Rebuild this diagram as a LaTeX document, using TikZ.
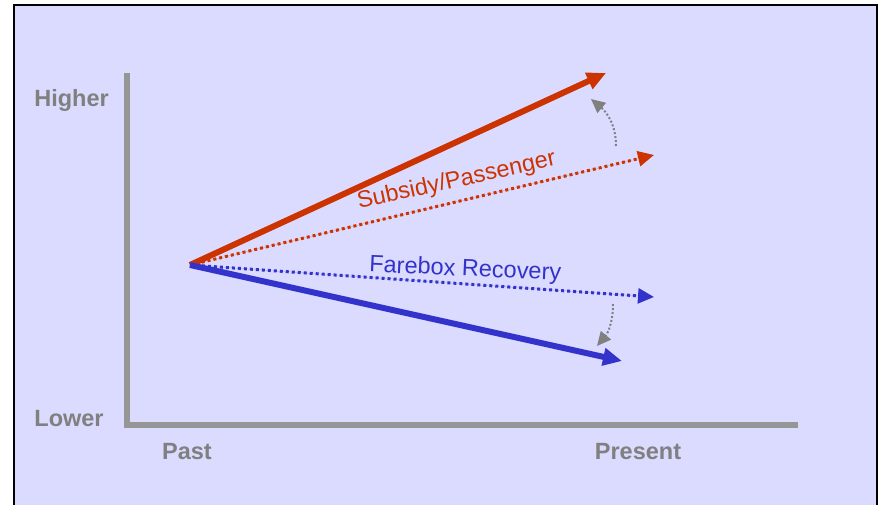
\documentclass[tikz,border=0pt]{standalone}
\usepackage{fontspec}
\setmainfont{Liberation Sans}
\usetikzlibrary{arrows.meta}
\definecolor{panel}{RGB}{219,219,255}
\definecolor{axisgray}{RGB}{150,150,150}
\definecolor{labelgray}{RGB}{128,128,128}
\definecolor{subred}{RGB}{204,51,0}
\definecolor{fareblue}{RGB}{51,51,204}
\tikzset{
  axisline/.style={draw=axisgray, line width=6pt},
  axislabel/.style={text=labelgray, font=\fontsize{23.5}{28}\bfseries\selectfont, anchor=base, inner sep=0pt},
  trendlabel/.style={font=\fontsize{23.5}{28}\selectfont, anchor=base, inner sep=0pt},
  solidtrend/.style={line width=6pt, -{Triangle[length=19pt, width=17pt]}},
  dottedtrend/.style={line width=3pt, dash pattern=on 3pt off 3pt, -{Triangle[length=16pt, width=15pt]}},
  shiftarrow/.style={draw=labelgray, line width=2pt, dash pattern=on 2pt off 2pt, -{Triangle[length=14pt, width=13pt, fill=labelgray]}}
}
\begin{document}
\begin{tikzpicture}[x=1pt, y=-1pt]
  \useasboundingbox (0,0) rectangle (879,505);
  % panel
  \fill[panel] (14,5) rectangle (877,510);
  \draw[black, line width=2pt] (14,510) -- (14,5) -- (877,5) -- (877,510);

  % axes
  \coordinate (ytop) at (126.5,73);
  \coordinate (corner) at (126.5,425);
  \coordinate (xend) at (798,425);
  \draw[axisline] (ytop) -- (corner) -- (xend);

  \node[axislabel] (higher) at (71.5,106.5) {Higher};
  \node[axislabel] (lower) at (69,426.5) {Lower};
  \node[axislabel] (past) at (187,459) {Past};
  \node[axislabel] (present) at (638,459) {Present};

  % trend lines
  \coordinate (origin) at (190,265);
  \coordinate (redsolid) at (606,73);
  \coordinate (reddot) at (654,155);
  \coordinate (bluedot) at (654,297);
  \coordinate (bluesolid) at (622,361);

  \draw[dottedtrend, draw=subred, fill=subred] (origin) -- (reddot);
  \draw[dottedtrend, draw=fareblue, fill=fareblue] (origin) -- (bluedot);
  \draw[solidtrend, draw=subred, fill=subred] (origin) -- (redsolid);
  \draw[solidtrend, draw=fareblue, fill=fareblue] (origin) -- (bluesolid);

  % shifts between the lines
  \coordinate (upstart) at (616,146);
  \coordinate (uptip) at (591,99);
  \coordinate (downstart) at (613,304);
  \coordinate (downtip) at (597,346);
  \draw[shiftarrow] (upstart) to[out=90, in=-40] (uptip);
  \draw[shiftarrow] (downstart) to[out=-90, in=50] (downtip);

  % labels
  \node[trendlabel, text=subred, rotate=12.5] (subsidy) at (458,187) {Subsidy/Passenger};
  \node[trendlabel, text=fareblue, rotate=-2.5] (farebox) at (465,276) {Farebox Recovery};
\end{tikzpicture}
\end{document}
